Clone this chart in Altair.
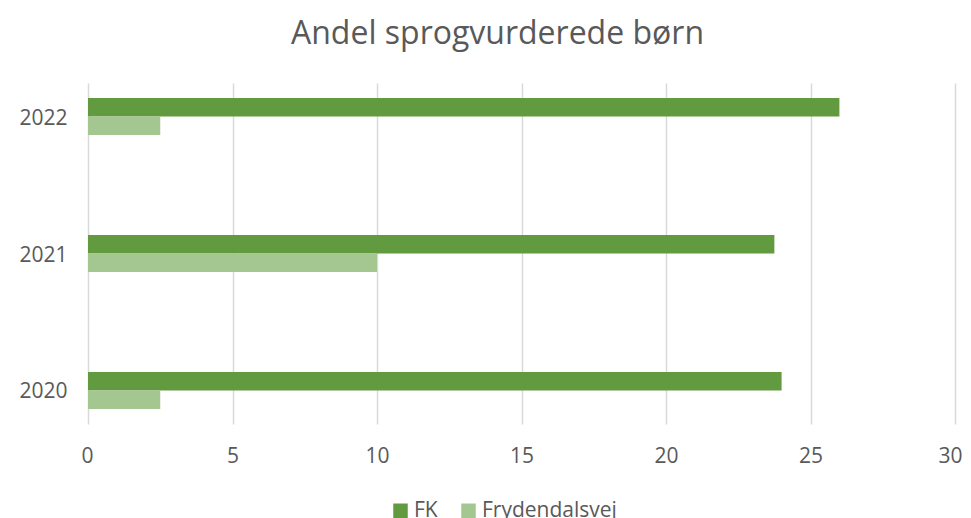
import altair as alt
import pandas as pd

years = ["2022", "2021", "2020"]
series = ["FK", "Frydendalsvej"]
fk_values = [26.0, 23.75, 24.0]
fryd_values = [2.5, 10.0, 2.5]
x_ticks = [0, 5, 10, 15, 20, 25, 30]
colors = ["#629A3F", "#A4C690"]

rows = []
for y, v in zip(years, fk_values):
    rows.append({"year": y, "series": "FK", "value": v})
for y, v in zip(years, fryd_values):
    rows.append({"year": y, "series": "Frydendalsvej", "value": v})
df = pd.DataFrame(rows)

FONT = "Open Sans"
TXT = "#595959"

chart = alt.Chart(df).mark_bar().encode(
    x=alt.X("value:Q",
            scale=alt.Scale(domain=[0, 30], nice=False, zero=True),
            axis=alt.Axis(values=x_ticks, title=None, domain=False, ticks=False,
                          grid=True, gridColor="#d9d9d9", gridWidth=1.5,
                          labelFont=FONT, labelFontSize=21, labelColor=TXT,
                          labelPadding=21, labelFlush=True, labelFlushOffset=7)),
    y=alt.Y("year:N", sort=years,
            scale=alt.Scale(paddingInner=0.73, paddingOuter=0.11),
            axis=alt.Axis(title=None, domain=False, ticks=False, grid=False,
                          labelFont=FONT, labelFontSize=21, labelColor=TXT,
                          labelPadding=21, labelOffset=2)),
    yOffset=alt.YOffset("series:N", sort=series),
    color=alt.Color("series:N", sort=series,
                    scale=alt.Scale(domain=series, range=colors),
                    legend=alt.Legend(title=None, orient="none", legendX=302, legendY=417,
                                      direction="horizontal", symbolType="square",
                                      symbolSize=210, symbolStrokeWidth=0,
                                      labelFont=FONT, labelFontSize=21, labelColor=TXT,
                                      columnPadding=20, labelOffset=3)),
).properties(
    width=867,
    height=341,
    title=alt.TitleParams("Andel sprogvurderede børn", font=FONT, fontSize=32,
                          fontWeight="normal", color=TXT, anchor="middle",
                          offset=32, dx=-24),
    autosize=alt.AutoSizeParams(type="none"),
    padding={"left": 80, "top": 75, "right": 8, "bottom": 94},
).configure_view(stroke=None).configure_axisX(gridDash=[])

chart.save("out.html", embed_options={"renderer": "svg", "actions": False})
